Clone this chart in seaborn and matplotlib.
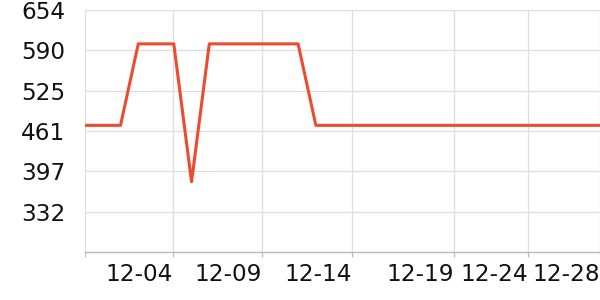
import matplotlib
matplotlib.use("Agg")
import matplotlib.pyplot as plt
import seaborn as sns
import pandas as pd
import numpy as np

# data
day_index = list(range(30))
values = [470, 470, 470, 600, 600, 600, 380, 600, 600, 600, 600, 600, 600, 470,
          470, 470, 470, 470, 470, 470, 470, 470, 470, 470, 470, 470, 470, 470, 470, 470]
xtick_pos = [0, 4.95, 9.97, 15.03, 20.78, 24.94, 29]
xtick_labels = ["", "12-04", "12-09", "12-14", "12-19", "12-24", "12-28"]
ytick_vals = [268, 332.33, 396.67, 461, 525.33, 589.67, 654]
ytick_labels = ["", "332", "397", "461", "525", "590", "654"]

sns.set_theme(style="white")
plt.rcParams['font.family'] = ['DejaVu Sans']

df = pd.DataFrame({"idx": day_index, "val": values})

fig = plt.figure(figsize=(6, 3), dpi=100)
ax = fig.add_axes([85/600, 48/300, 1 - 85/600, (252-10)/300])

sns.lineplot(data=df, x="idx", y="val", ax=ax, color="#EE4B2E", linewidth=2.2, zorder=3)

ax.set_xlim(0, 29)
ax.set_ylim(268, 654)
ax.set_xticks(xtick_pos)
ax.set_xticklabels(xtick_labels, ha="right", fontsize=16.7, color="#111111")
ax.set_yticks(ytick_vals)
ax.set_yticklabels(ytick_labels, fontsize=16.7, color="#111111")
ax.set_xlabel("")
ax.set_ylabel("")

ax.grid(True, color="#dddddd", linewidth=0.9)
ax.set_axisbelow(True)
for s in ["top", "right", "left"]:
    ax.spines[s].set_visible(False)
ax.spines["bottom"].set_color("#bbbbbb")
ax.spines["bottom"].set_linewidth(1.0)
ax.tick_params(axis="x", length=3.6, width=0.9, color="#bbbbbb", pad=4, bottom=True)
ax.tick_params(axis="y", length=0, pad=14)

fig.savefig("out.png", dpi=100)
